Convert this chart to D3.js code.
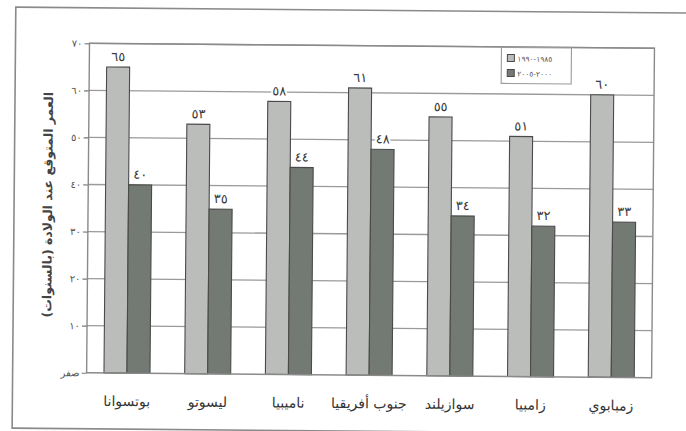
<!DOCTYPE html>
<html>
<head>
<meta charset="utf-8">
<script src="https://cdn.jsdelivr.net/npm/d3@7/dist/d3.min.js"></script>
<style>
  html, body { margin: 0; padding: 0; background: #fff; }
  svg { display: block; }
  text { font-family: "DejaVu Sans", "Noto Sans", sans-serif; }
</style>
</head>
<body>
<svg id="chart" width="686" height="431"></svg>
<script>
// Life expectancy at birth, southern African countries
const countries = ["بوتسوانا", "ليسوتو", "ناميبيا", "جنوب أفريقيا", "سوازيلند", "زامبيا", "زمبابوي"];
const period1 = [65, 53, 58, 61, 55, 51, 60];   // 1985-1990
const period2 = [40, 35, 44, 48, 34, 32, 33];   // 2000-2005
const seriesNames = ["١٩٨٥-١٩٩٠", "٢٠٠٠-٢٠٠٥"];
const yTicks = [0, 10, 20, 30, 40, 50, 60, 70];
const yTitle = "العمر المتوقع عند الولادة (بالسنوات)";

const arabicDigits = n => String(n).replace(/\d/g, d => "٠١٢٣٤٥٦٧٨٩"[+d]);

const W = 686, H = 431;
const plot = { left: 88, right: 653, top: 45.5, bottom: 375 };
const colors = ["#babdba", "#737a74"];

const svg = d3.select("#chart");
const root = svg.append("g").attr("transform", `rotate(0.5 ${W / 2} ${H / 2})`);

// outer frame
root.append("rect")
  .attr("x", 14).attr("y", 10).attr("width", 720).attr("height", 421)
  .attr("fill", "none").attr("stroke", "#8a8a8a").attr("stroke-width", 1.6);

const x = d3.scaleBand().domain(countries).range([plot.left, plot.right]).padding(0);
const y = d3.scaleLinear().domain([0, 70]).range([plot.bottom, plot.top]);
const barW = x.bandwidth() * 0.285;

// gridlines
root.append("g").selectAll("line").data(yTicks.filter(t => t > 0)).join("line")
  .attr("x1", plot.left).attr("x2", plot.right)
  .attr("y1", d => y(d)).attr("y2", d => y(d))
  .attr("stroke", "#9a9a9a").attr("stroke-width", 1.3);

// y axis with tick marks and labels
const yAxis = d3.axisLeft(y).tickValues(yTicks).tickSize(5).tickPadding(2)
  .tickFormat(d => d === 0 ? "صفر" : arabicDigits(d));
const gy = root.append("g").attr("transform", `translate(${plot.left},0)`).call(yAxis);
gy.select(".domain").remove();
gy.selectAll(".tick line").attr("stroke", "#777").attr("stroke-width", 1.2);
gy.selectAll(".tick text").attr("fill", "#555").style("font-size", "10px");

// bars
const groups = root.append("g").selectAll("g").data(countries).join("g");
[period1, period2].forEach((vals, s) => {
  groups.append("rect")
    .attr("x", (d, i) => x(d) + x.bandwidth() / 2 - barW + s * barW)
    .attr("y", (d, i) => y(vals[i]))
    .attr("width", barW)
    .attr("height", (d, i) => y(0) - y(vals[i]))
    .attr("fill", colors[s]).attr("stroke", "#4a4a4a").attr("stroke-width", 1.1);
  groups.append("text")
    .attr("x", (d, i) => x(d) + x.bandwidth() / 2 - barW / 2 + s * barW)
    .attr("y", (d, i) => y(vals[i]) - 6)
    .attr("text-anchor", "middle")
    .attr("fill", "#3a3a3a")
    .style("font-size", "13px")
    .attr("stroke", "#fff").attr("stroke-width", 4).attr("paint-order", "stroke")
    .text((d, i) => arabicDigits(vals[i]));
});

// plot frame
root.append("rect")
  .attr("x", plot.left).attr("y", plot.top)
  .attr("width", plot.right - plot.left).attr("height", plot.bottom - plot.top)
  .attr("fill", "none").attr("stroke", "#8a8a8a").attr("stroke-width", 1.4);

// category labels
root.append("g").selectAll("text").data(countries).join("text")
  .attr("x", d => x(d) + x.bandwidth() / 2)
  .attr("y", 408)
  .attr("text-anchor", "middle")
  .attr("fill", "#333")
  .style("font-size", "14px")
  .text(d => d);

// y axis title
root.append("text")
  .attr("transform", `translate(52,${(plot.top + plot.bottom) / 2 - 3}) rotate(-90)`)
  .attr("text-anchor", "middle")
  .attr("fill", "#444")
  .style("font-size", "12.5px").style("font-weight", "bold")
  .text(yTitle);

// legend
const lg = root.append("g").attr("transform", "translate(500,46)");
lg.append("rect").attr("width", 70).attr("height", 36)
  .attr("fill", "#fff").attr("stroke", "#9a9a9a").attr("stroke-width", 1.1);
seriesNames.forEach((name, s) => {
  lg.append("rect").attr("x", 6).attr("y", 7 + s * 15).attr("width", 7).attr("height", 7)
    .attr("fill", colors[s]).attr("stroke", "#4a4a4a").attr("stroke-width", 1);
  lg.append("text").attr("x", 16).attr("y", 14 + s * 15)
    .attr("fill", "#555").style("font-size", "7.5px")
    .text(name);
});
</script>
</body>
</html>
